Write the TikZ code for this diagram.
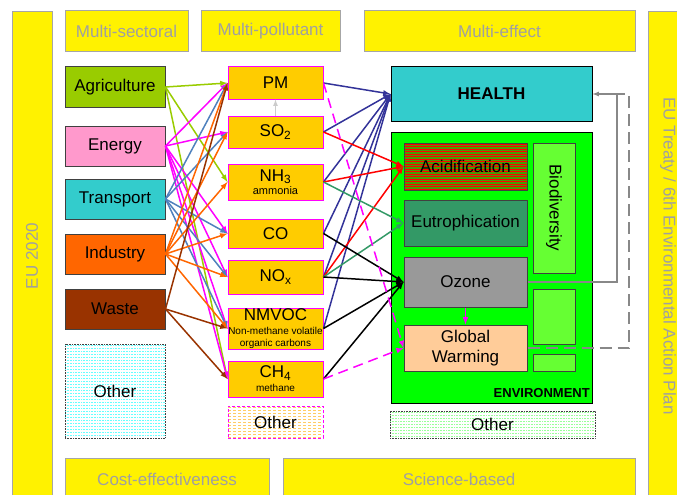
\documentclass[tikz,border=0pt]{standalone}
\usepackage{fontspec}
\setmainfont{Liberation Sans}
\usetikzlibrary{arrows}
\definecolor{bannerEdge}{HTML}{A6A6A6}
\definecolor{bannerText}{HTML}{A0A0A0}
\definecolor{srcEdge}{HTML}{404040}
\definecolor{agri}{HTML}{99CC00}
\definecolor{ener}{HTML}{FF99CC}
\definecolor{trans}{HTML}{33CCCC}
\definecolor{indu}{HTML}{FF6600}
\definecolor{wast}{HTML}{993300}
\definecolor{polFill}{HTML}{FFCC00}
\definecolor{heal}{HTML}{33CCCC}
\definecolor{envir}{HTML}{00FF00}
\definecolor{eutro}{HTML}{339966}
\definecolor{biodi}{HTML}{66FF33}
\definecolor{ozon}{HTML}{999999}
\definecolor{warm}{HTML}{FFCC99}
\definecolor{acidBase}{HTML}{4D9900}
\definecolor{stripeCyan}{HTML}{66FFFF}
\definecolor{stripeOrange}{HTML}{FFCC66}
\definecolor{stripeGreen}{HTML}{99FF99}
\definecolor{lEner}{HTML}{FF00FF}
\definecolor{lTrans}{HTML}{4F81BD}
\definecolor{lHeal}{HTML}{333399}
\definecolor{lGray}{HTML}{888888}
\newcommand{\bigtxt}{\fontsize{17}{20}\selectfont}
\newcommand{\midtxt}{\fontsize{11}{12}\selectfont}
\newcommand{\smalltxt}{\fontsize{10}{11}\selectfont}

\begin{document}
\begin{tikzpicture}[x=1pt, y=-1pt, >=latex,
  banner/.style={draw=bannerEdge, line width=1pt, fill=yellow, text=bannerText, font=\bigtxt, inner sep=0pt},
  src/.style={draw=srcEdge, line width=1pt, minimum width=100pt, minimum height=40pt, inner sep=0pt, font=\bigtxt},
  pol/.style={draw=lEner, line width=1pt, fill=polFill, minimum width=95pt, inner sep=0pt, align=center, font=\fontsize{17}{12}\selectfont},
  eff/.style={draw=srcEdge, line width=1pt, minimum width=123pt, inner sep=0pt, align=center, font=\bigtxt},
  other/.style={draw=srcEdge, densely dotted, line width=0.6pt, inner sep=0pt, font=\bigtxt},
  stripes/.style={path picture={\foreach \k in {1.5,4.5,...,120} \draw [#1, line width=1.5pt] ([yshift=-\k pt]path picture bounding box.north west) -- ([yshift=-\k pt]path picture bounding box.north east);}},
  acidlines/.style={path picture={\foreach \k in {1,3.5,...,50} \draw [red, line width=0.8pt] ([yshift=-\k pt]path picture bounding box.north west) -- ([yshift=-\k pt]path picture bounding box.north east);}},
  link/.style={->, line width=1.5pt}]
  \useasboundingbox (0,0) rectangle (677,495);
  \node [banner, rotate=90, minimum width=488pt, minimum height=40pt] (EUL) at (32,256) {EU 2020};
  \node [banner, rotate=-90, minimum width=488pt, minimum height=40pt] (EUR) at (668,256) {EU Treaty / 6th Environmental Action Plan};
  \node [banner, minimum width=123pt, minimum height=41pt] (Sec) at (126.5,31.5) {Multi-sectoral};
  \node [banner, minimum width=139pt, minimum height=41pt] (Mpo) at (270.5,31.5) {Multi-pollutant};
  \node [banner, minimum width=271pt, minimum height=41pt] (Mef) at (499.5,31.5) {Multi-effect};
  \node [banner, minimum width=204pt, minimum height=42pt] (Cost) at (167,479) {Cost-effectiveness};
  \node [banner, minimum width=352pt, minimum height=42pt] (Sci) at (459,479) {Science-based};

  \node [src, fill=agri] (Agr) at (115,87) {Agriculture};
  \node [src, fill=ener] (Ene) at (115,146) {Energy};
  \node [src, fill=trans] (Tra) at (115,199) {Transport};
  \node [src, fill=indu] (Ind) at (115,254) {Industry};
  \node [src, fill=wast] (Was) at (115,309) {Waste};
  \node [other, stripes=stripeCyan, minimum width=100pt, minimum height=94pt] (OthS) at (115,391) {Other};

  \node [pol, minimum height=32pt] (PM) at (275.5,83) {PM};
  \node [pol, minimum height=32pt] (SO) at (275.5,132) {SO\textsubscript{2}};
  \node [pol, minimum height=36pt] (NH) at (275.5,182) {NH\textsubscript{3}\\[1pt]\midtxt ammonia};
  \node [pol, minimum height=29pt] (CO) at (275.5,233.5) {CO};
  \node [pol, minimum height=34pt] (NO) at (275.5,277) {NO\textsubscript{x}};
  \node [pol, minimum height=41pt] (VOC) at (275.5,328.5) {NMVOC\\[2pt]\smalltxt Non-methane volatile\\\smalltxt organic carbons};
  \node [pol, minimum height=36pt] (CH) at (275.5,379) {CH\textsubscript{4}\\[2pt]\smalltxt methane};
  \node [other, draw=lEner, densely dashed, stripes=stripeOrange, minimum width=95pt, minimum height=32pt] (OthP) at (275.5,422) {Other};

  \node [eff, draw=black, fill=heal, minimum width=201pt, minimum height=54pt, font=\bfseries\bigtxt] (Hea) at (491.5,94) {HEALTH};
  \node [draw=black, line width=1pt, fill=envir, minimum width=201pt, minimum height=271pt, inner sep=0pt] (Env) at (491.5,267.5) {};
  \node [eff, fill=acidBase, acidlines, minimum height=47pt] (Aci) at (465.5,166.5) {Acidification};
  \node [eff, fill=eutro, minimum height=46pt] (Eut) at (465.5,223) {Eutrophication};
  \node [eff, fill=biodi, rotate=-90, minimum width=130pt, minimum height=42pt] (Bio) at (554,208) {Biodiversity};
  \node [eff, fill=ozon, minimum height=50pt] (Ozo) at (465.5,282) {Ozone};
  \node [eff, fill=warm, minimum height=46pt] (GW) at (465.5,348) {Global\\Warming};
  \node [eff, fill=biodi, minimum width=42pt, minimum height=55pt] (BoxA) at (554,316.5) {};
  \node [eff, fill=biodi, minimum width=42pt, minimum height=17pt] (BoxB) at (554,362.5) {};
  \node [anchor=base east, inner sep=0pt, font=\bfseries\fontsize{13}{14}\selectfont] (EnvLab) at (590,397) {ENVIRONMENT};
  \node [other, stripes=stripeGreen, minimum width=205pt, minimum height=27pt] (OthE) at (492.5,424.5) {Other};

  \draw [link, agri] (Agr.east) -- (PM.west);
  \draw [link, agri] (Agr.east) -- (NH.west);
  \draw [link, agri] (Agr.east) -- (CH.west);
  \draw [link, lEner] (Ene.east) -- (PM.west);
  \draw [link, lEner] (Ene.east) -- (SO.west);
  \draw [link, lEner] (Ene.east) -- (CO.west);
  \draw [link, lEner] (Ene.east) -- (NO.west);
  \draw [link, lEner] (Ene.east) -- (VOC.west);
  \draw [link, lEner] (Ene.east) -- (CH.west);
  \draw [link, lTrans] (Tra.east) -- (PM.west);
  \draw [link, lTrans] (Tra.east) -- (SO.west);
  \draw [link, lTrans] (Tra.east) -- (CO.west);
  \draw [link, lTrans] (Tra.east) -- (NO.west);
  \draw [link, lTrans] (Tra.east) -- (VOC.west);
  \draw [link, indu] (Ind.east) -- (PM.west);
  \draw [link, indu] (Ind.east) -- (SO.west);
  \draw [link, indu] (Ind.east) -- (NH.west);
  \draw [link, indu] (Ind.east) -- (CO.west);
  \draw [link, indu] (Ind.east) -- (NO.west);
  \draw [link, indu] (Ind.east) -- (VOC.west);
  \draw [link, wast] (Was.east) -- (PM.west);
  \draw [link, wast] (Was.east) -- (VOC.west);
  \draw [link, wast] (Was.east) -- (CH.west);
  \draw [->, line width=1.2pt, black!20] (SO) -- (PM);

  \draw [link, lHeal] (PM.east) -- (Hea.west);
  \draw [link, lHeal] (SO.east) -- (Hea.west);
  \draw [link, lHeal] (NH.east) -- (Hea.west);
  \draw [link, lHeal] (CO.east) -- (Hea.west);
  \draw [link, lHeal] (NO.east) -- (Hea.west);
  \draw [link, lHeal] (VOC.east) -- (Hea.west);
  \draw [link, red] (SO.east) -- (Aci.west);
  \draw [link, red] (NH.east) -- (Aci.west);
  \draw [link, red] (NO.east) -- (Aci.west);
  \draw [link, eutro] (NH.east) -- (Eut.west);
  \draw [link, eutro] (NO.east) -- (Eut.west);
  \draw [link, black] (CO.east) -- (Ozo.west);
  \draw [link, black] (NO.east) -- (Ozo.west);
  \draw [link, black] (VOC.east) -- (Ozo.west);
  \draw [link, black] (CH.east) -- (Ozo.west);
  \draw [link, lEner, dash pattern=on 10pt off 6pt] (PM.east) -- (GW.west);
  \draw [link, lEner, dash pattern=on 10pt off 6pt] (CH.east) -- (GW.west);
  \draw [->, line width=1.5pt, lEner] (Ozo) -- (GW);

  \coordinate (TurnO) at (617,94);
  \coordinate (TurnG) at (629,94);
  \draw [->, line width=1.2pt, lGray] (Ozo.east) -| (TurnO) -- (Hea.east);
  \draw [line width=1.2pt, lGray, dash pattern=on 12pt off 6pt] (GW.east) -| (TurnG) -- (TurnO);
\end{tikzpicture}
\end{document}
